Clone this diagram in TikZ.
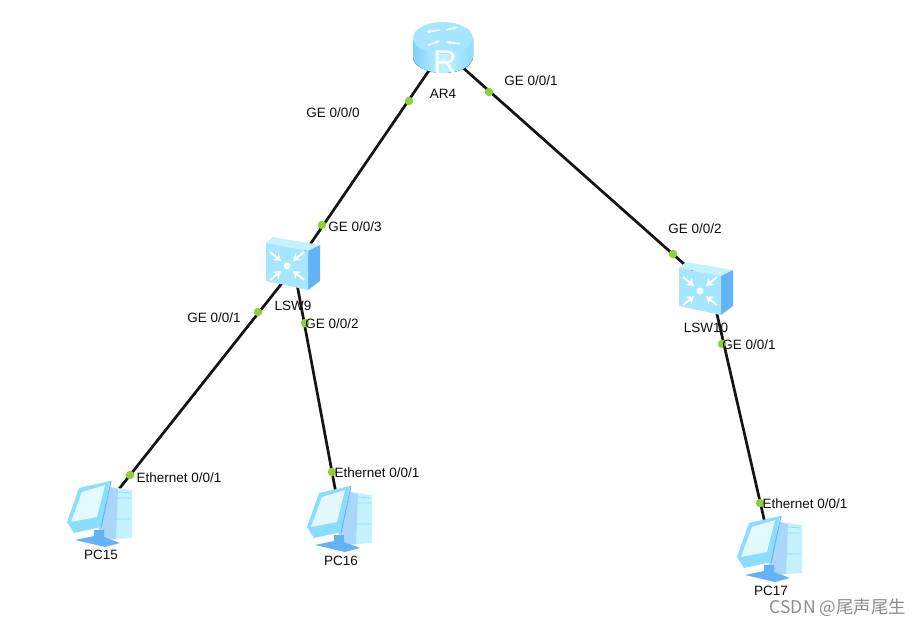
\documentclass[tikz,border=0pt]{standalone}
\usepackage{fontspec}
\setmainfont{Liberation Sans}
\newfontfamily\cjk{Noto Sans CJK SC}
\usetikzlibrary{arrows.meta}
\definecolor{dotgreen}{HTML}{8CD03C}
\definecolor{icontop}{HTML}{A6E6FF}
\definecolor{iconlight}{HTML}{C4F3FF}
\definecolor{iconmid}{HTML}{8ADDFF}
\definecolor{icondark}{HTML}{62B4F6}
\tikzset{
	routericon/.pic={
		\fill[left color=iconmid!70!icondark, right color=iconmid, middle color=iconlight]
			(-30,-12) -- (-30,7) arc[start angle=180, end angle=0, x radius=30, y radius=16] -- (30,-12) -- cycle;
		\fill[icontop] (0,-12) ellipse[x radius=30, y radius=16];
		\draw[white, line width=1.4pt, -{Stealth[length=5pt]}] (-3,-20) -- (-17,-18);
		\draw[white, line width=1.4pt, -{Stealth[length=5pt]}] (-15,-5) -- (-3,-9);
		\draw[white, line width=1.4pt, -{Stealth[length=5pt]}] (3,-20) -- (15,-23);
		\draw[white, line width=1.4pt, -{Stealth[length=5pt]}] (17,-6) -- (3,-8);
		\node[white, inner sep=0pt, font=\fontsize{33}{33}\selectfont] at (2,12) {R};
	},
	switchicon/.pic={
		\fill[iconlight] (-25,-22) -- (-18,-28) -- (29,-20) -- (17,-14) -- cycle;
		\fill[icondark] (17,-14) -- (29,-20) -- (29,16) -- (17,25) -- cycle;
		\fill[icontop] (-25,-22) -- (17,-14) -- (17,25) -- (-25,16) -- cycle;
		\foreach \a/\b in {-1/-1, 1/-1, -1/1, 1/1} {
			\draw[white, line width=2pt, -{Stealth[length=7pt, width=9pt]}] (-4+\a*17,1+\b*14) -- (-4+\a*6,1+\b*5);
		}
		\fill[white] (-4,1) circle[radius=3.5];
	},
	pcicon/.pic={
		\fill[iconlight] (10,-25) -- (32,-22) -- (32,26) -- (5,28) -- cycle;
		\fill[icondark!55!white] (10,-25) -- (18,-23) -- (16,27) -- (5,28) -- (-2,20) -- cycle;
		\fill[icondark] (-6,18) -- (4,18) -- (4,25) -- (20,31) -- (5,35) -- (-25,28) -- (-6,24) -- cycle;
		\fill[iconmid] (-33,10) -- (-21,-24) -- (10,-31) -- (1,15) -- (-26,21) -- cycle;
		\fill[iconlight!50!white] (-29,10) -- (-18,-20) -- (5,-27) -- (-3,5) -- cycle;
		\draw[icondark, line width=1pt] (11,-31) -- (1,16);
		\draw[iconmid, line width=0.8pt] (15,-14) -- (31,-14) (15,7) -- (31,7) (18,-20) -- (30,-19);
	}
}
\begin{document}
\begin{tikzpicture}[x=1pt, y=-1pt,
		every node/.style={font=\fontsize{13.5}{14}\selectfont, text=black!95},
		device/.style={inner sep=0pt, minimum size=0pt},
		link/.style={line width=2.7pt, black!92},
		portdot/.style={circle, fill=dotgreen, inner sep=0pt, minimum size=8.5pt}]
	\useasboundingbox (0,0) rectangle (922,626);
	\fill[white] (0,0) rectangle (922,626);

	% connection points of the devices
	\node[device] (ar) at (443,50) {};
	\node[device] (lswnine) at (294,268) {};
	\node[device] (lswten) at (711,288) {};
	\node[device] (pcfifteen) at (100,513) {};
	\node[device] (pcsixteen) at (340,515) {};
	\node[device] (pcseventeen) at (770,545) {};

	% links
	\draw[link] (ar) -- (lswnine);
	\draw[link] (ar) -- (lswten);
	\draw[link] (lswnine) -- (pcfifteen);
	\draw[link] (lswnine) -- (pcsixteen);
	\draw[link] (lswten) -- (pcseventeen);

	% icons
	\pic at (443,50) {routericon};
	\pic at (291,265) {switchicon};
	\pic at (704,290) {switchicon};
	\pic at (100,512) {pcicon};
	\pic at (340,517) {pcicon};
	\pic at (770,547) {pcicon};

	% ports
	\node[portdot] (pa) at (409,101) {};
	\node[portdot] (pb) at (489,92) {};
	\node[portdot] (pc) at (322,225) {};
	\node[portdot] (pd) at (673,254) {};
	\node[portdot] (pe) at (258,312) {};
	\node[portdot] (pf) at (305,323) {};
	\node[portdot] (pg) at (722,344) {};
	\node[portdot] (ph) at (130,475) {};
	\node[portdot] (pi) at (332,472) {};
	\node[portdot] (pj) at (760,503) {};

	% labels
	\node (ara) at (443,94) {AR4};
	\node (lswa) at (293,306) {LSW9};
	\node (lswb) at (706,328) {LSW10};
	\node (pca) at (101,555) {PC15};
	\node (pcb) at (341,561) {PC16};
	\node (pcc) at (771,591) {PC17};
	\node (la) at (333,113) {GE 0/0/0};
	\node (lb) at (531,81) {GE 0/0/1};
	\node (lc) at (355,227) {GE 0/0/3};
	\node (ld) at (695,229) {GE 0/0/2};
	\node (le) at (214,318) {GE 0/0/1};
	\node (lf) at (332,324) {GE 0/0/2};
	\node (lg) at (749,345) {GE 0/0/1};
	\node (lh) at (179,478) {Ethernet 0/0/1};
	\node (li) at (377,473) {Ethernet 0/0/1};
	\node (lj) at (805,504) {Ethernet 0/0/1};
	\node[text=black!45, font=\cjk\fontsize{17.5}{18}\selectfont] (mark) at (838,608) {CSDN @尾声尾生};
\end{tikzpicture}
\end{document}
